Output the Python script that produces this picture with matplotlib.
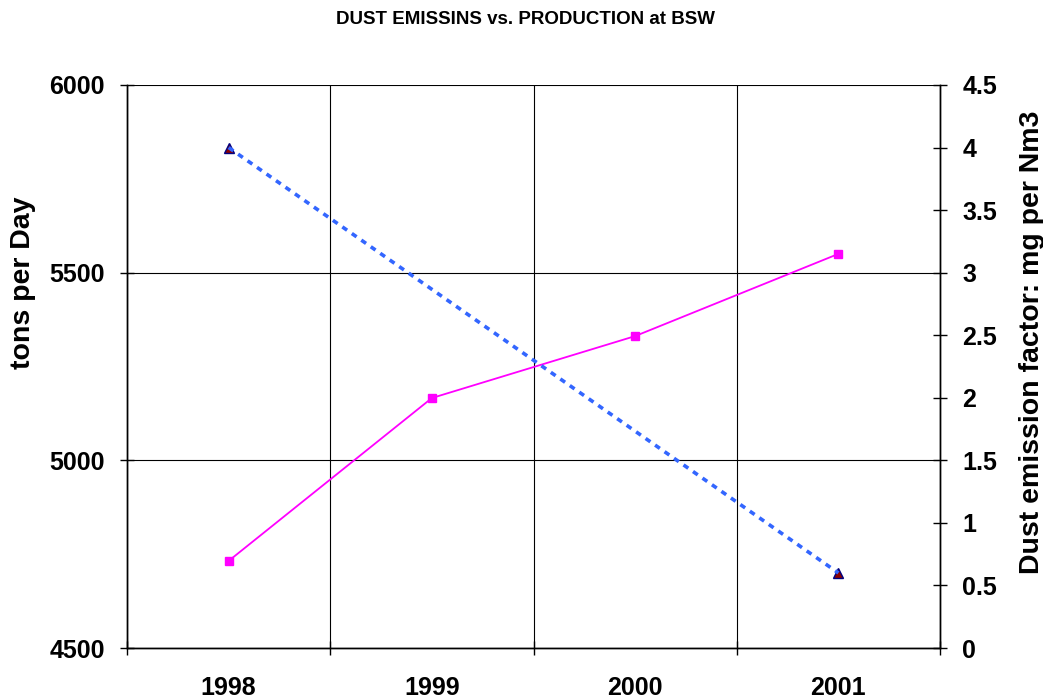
import matplotlib

matplotlib.use("Agg")

import matplotlib.pyplot as plt
import numpy as np

plt.rcParams["font.family"] = ["Liberation Sans", "DejaVu Sans"]
plt.rcParams["font.weight"] = "bold"

years = ["1998", "1999", "2000", "2001"]
production = [4732, 5166, 5331, 5550]          # tons per day, left axis
emission_years = ["1998", "2001"]
emission_factor = [4.0, 0.6]                   # mg per Nm3, right axis

x = np.arange(1, len(years) + 1)
x_em = np.array([years.index(y) + 1 for y in emission_years])

W, H = 1043, 699
fig = plt.figure(figsize=(W / 100, H / 100), dpi=100)
ax = fig.add_axes([127 / W, 1 - 648 / H, (940 - 127) / W, (648 - 85) / H])
ax2 = ax.twinx()

ax.plot(x, production, color="#ff00ff", linewidth=1.3, marker="s",
        markersize=6, markerfacecolor="#ff00ff", markeredgecolor="#ff00ff", zorder=3)

ax2.plot(x_em, emission_factor, linestyle="none", marker="^", markersize=7,
         markerfacecolor="#8b0000", markeredgecolor="#000080", zorder=3)
ax2.plot(x_em, emission_factor, color="#3366ff", linewidth=2.6,
         linestyle=(0, (1.6, 1.6)), zorder=4)

ax.set_xlim(0.5, len(years) + 0.5)
ax.set_ylim(4500, 6000)
ax.set_yticks([4500, 5000, 5500, 6000])
ax2.set_ylim(0, 4.5)
ax2.set_yticks(np.arange(0, 4.51, 0.5))
ax2.set_yticklabels(["0", "0.5", "1", "1.5", "2", "2.5", "3", "3.5", "4", "4.5"])

ax.set_xticks(np.arange(0.5, len(years) + 1, 1))
ax.set_xticklabels([])
ax.set_xticks(x, minor=True)
ax.set_xticklabels(years, minor=True)
ax.tick_params(axis="x", which="minor", length=0, labelsize=18, pad=20.5)
ax.tick_params(axis="x", which="major", direction="inout", length=10, width=1)
ax.tick_params(axis="y", direction="inout", length=10, width=1, labelsize=18, pad=11)
ax2.tick_params(axis="y", direction="inout", length=10, width=1, labelsize=18, pad=11)

ax.grid(True, which="major", color="black", linewidth=0.8)
for a in (ax, ax2):
    a.spines["top"].set_visible(False)
    for s in ("left", "right", "bottom"):
        a.spines[s].set_linewidth(1.0)

fig.text(23 / W, 1 - 283 / H, "tons per Day", rotation=90, ha="center", va="center",
         fontsize=20.5, fontweight="bold")
fig.text(1032 / W, 1 - 342 / H, "Dust emission factor: mg per Nm3", rotation=90,
         ha="center", va="center", fontsize=20.5, fontweight="bold")
fig.text(525 / W, 1 - 20 / H, "DUST EMISSINS vs. PRODUCTION at BSW", ha="center", va="center",
         fontsize=13.5, fontweight="bold")

fig.savefig("out.png", dpi=100)
